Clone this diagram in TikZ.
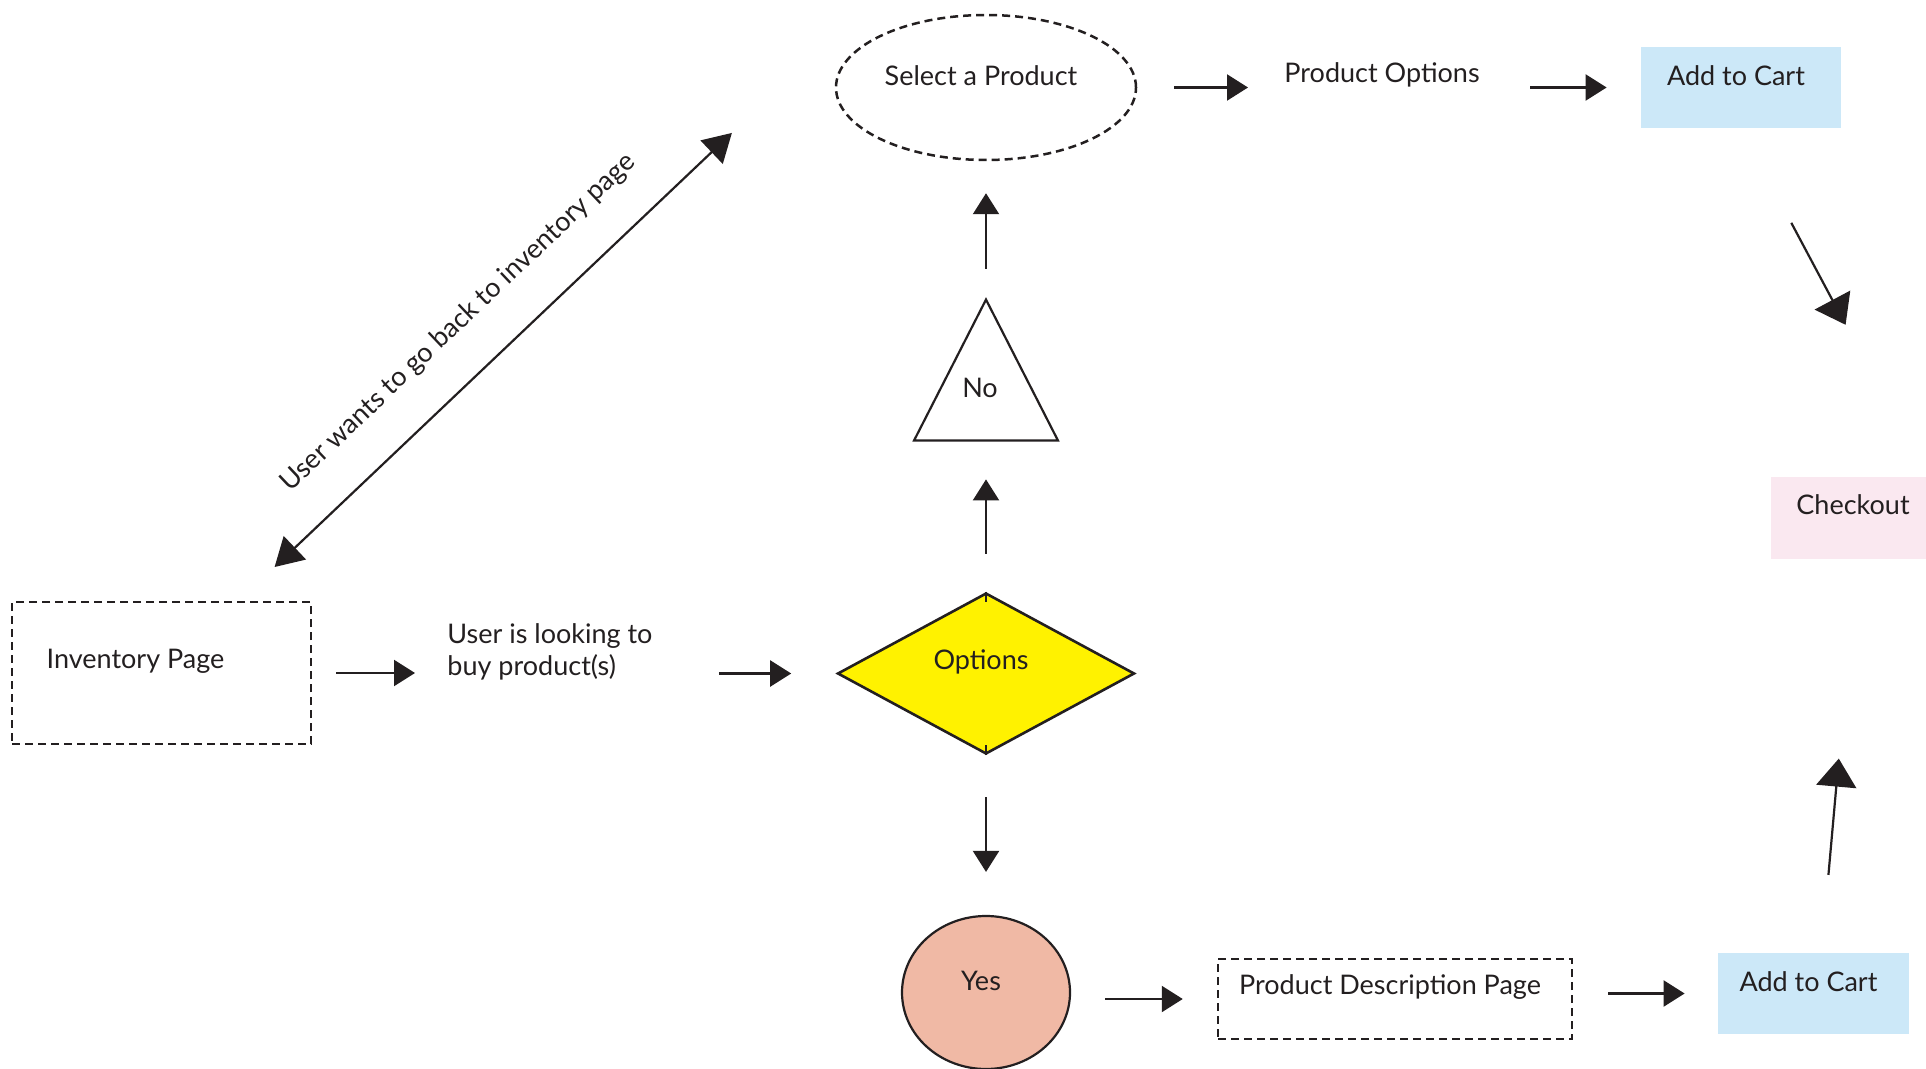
\documentclass[tikz,border=0pt]{standalone}
\usepackage{fontspec}
\setmainfont{Lato}
\usetikzlibrary{arrows.meta,shapes.geometric}
\definecolor{ink}{HTML}{231F20}
\definecolor{cartblue}{HTML}{CCE8F8}
\definecolor{checkpink}{HTML}{FAE8F0}
\definecolor{optyellow}{HTML}{FFF200}
\definecolor{yessalmon}{HTML}{F0B9A5}

\begin{document}
\begin{tikzpicture}[x=0.5pt,y=-0.5pt,
  every node/.style={text=ink, inner sep=0pt},
  font=\fontsize{13.5pt}{16pt}\selectfont,
  arr/.style={draw=ink, line width=1.1pt, -{Triangle[length=10.5pt,width=13pt]}},
  bigarr/.style={draw=ink, line width=1.1pt, -{Triangle[length=14pt,width=20pt]}},
  dblarr/.style={draw=ink, line width=1.1pt, {Triangle[length=14pt,width=16pt]}-{Triangle[length=14pt,width=16pt]}},
  dashbox/.style={draw=ink, line width=1.25pt, dash pattern=on 4pt off 2.5pt},
  txt/.style={label={[anchor=center,xshift=-2.5pt,yshift=6pt]center:#1}}]
\useasboundingbox (0,0) rectangle (1926,1069);

\node[dashbox, minimum width=149.5pt, minimum height=71pt,
  label={[anchor=center,xshift=-13pt,yshift=6pt]center:Inventory Page}] (inv) at (161.5,673) {};
\node[anchor=west, align=left] (look) at (447,652) {User is looking to\\buy product(s)};
\node[diamond, draw=ink, line width=1.3pt, fill=optyellow, minimum width=148.5pt,
  minimum height=80.5pt, txt=Options] (opt) at (986,673.5) {};
\foreach \a/\d in {north/10,south/-10}
  \draw[ink, line width=1.3pt] (opt.\a) -- ++(0,\d); % little ticks at the tips
\node[minimum width=71.5pt, minimum height=70pt,
  label={[anchor=center,xshift=-3pt,yshift=-9pt]center:No}] (no) at (986,370) {};
\draw[ink, line width=1.1pt] (no.north) -- (no.south east) -- (no.south west) -- cycle;
\node[ellipse, dashbox, minimum width=150pt, minimum height=72.5pt, txt=Select a Product] (sel) at (986,87.5) {};
\node (opts) at (1382,75) {Product Options};
\node[fill=cartblue, minimum width=100pt, minimum height=40.5pt, txt=Add to Cart] (cart1) at (1741,87.5) {};
\node[fill=checkpink, minimum width=77.5pt, minimum height=41pt,
  label={[anchor=center,xshift=2.25pt,yshift=6.5pt]center:Checkout}] (chk) at (1848.5,518) {};
\node[ellipse, draw=ink, line width=1.1pt, fill=yessalmon, minimum width=84pt,
  minimum height=76.5pt, txt=Yes] (yes) at (986,992.5) {};
\node[dashbox, minimum width=177pt, minimum height=40pt, txt=Product Description Page] (desc) at (1395,999) {};
\node[fill=cartblue, minimum width=95.5pt, minimum height=40.5pt, txt=Add to Cart] (cart2) at (1813.5,993.5) {};

\draw[arr, shorten <=12pt, shorten >=16pt] (inv.east) -- (inv.east -| look.west);
\draw[arr, shorten <=33pt, shorten >=22.5pt] (opt.west -| look.east) -- (opt.west);
\draw[arr, shorten <=19pt, shorten >=19.5pt] (opt.north) -- (no.south); % no branch
\draw[arr, shorten <=15.5pt, shorten >=16pt] (no.north) -- (sel.south);
\draw[arr, shorten <=18.5pt, shorten >=18pt] (sel.east) -- (sel.east -| opts.west);
\draw[arr, shorten <=25pt, shorten >=17pt] (cart1.west -| opts.east) -- (cart1.west);
\draw[bigarr, shorten <=53.5pt, shorten >=86pt] (cart1.south) -- (chk.north east);
\draw[arr, shorten <=21pt, shorten >=21.5pt] (opt.south) -- (yes.north); % yes branch
\draw[arr, shorten <=17pt, shorten >=17pt] (yes.east |- desc.west) -- (desc.west);
\draw[arr, shorten <=17.5pt, shorten >=16.5pt] (cart2.west -| desc.east) -- (cart2.west);
\draw[bigarr, shorten <=39pt, shorten >=100pt] ([xshift=4pt]cart2.north) -- ([xshift=4pt]chk.south);
\draw[dblarr, shorten <=24.5pt, shorten >=33pt] ([xshift=-36.6pt]inv.north east) -- ([xshift=-27.5pt]sel.west)
  node[pos=0.47, sloped, above=18.5pt] (back) {User wants to go back to inventory page};
\end{tikzpicture}
\end{document}
